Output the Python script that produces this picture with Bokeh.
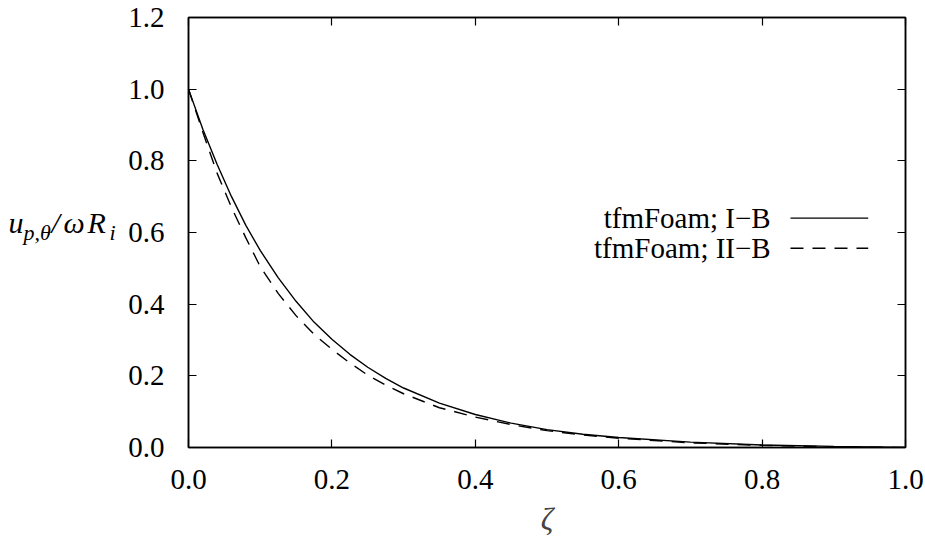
from bokeh.plotting import figure
from bokeh.layouts import row
from bokeh.models import Range1d, FixedTicker, PrintfTickFormatter, LinearAxis, Label
from bokeh.core.properties import value
from bokeh.embed import file_html
from bokeh.resources import INLINE

# ---- data ----
zeta = [0.0, 0.02, 0.04, 0.06, 0.08, 0.10, 0.125, 0.15, 0.175, 0.20, 0.225, 0.25,
        0.275, 0.30, 0.35, 0.40, 0.45, 0.50, 0.55, 0.60, 0.70, 0.80, 0.90, 1.00]
u_IB = [1.000, 0.888, 0.790, 0.700, 0.620, 0.550, 0.474, 0.408, 0.350, 0.302, 0.260, 0.224,
        0.193, 0.166, 0.124, 0.092, 0.068, 0.050, 0.037, 0.028, 0.015, 0.007, 0.003, 0.000]
u_IIB = [1.000, 0.880, 0.765, 0.670, 0.585, 0.505, 0.430, 0.368, 0.316, 0.274, 0.236, 0.202,
         0.174, 0.150, 0.111, 0.085, 0.064, 0.047, 0.035, 0.026, 0.013, 0.006, 0.002, 0.000]
series_names = ["tfmFoam; I\u2212B", "tfmFoam; II\u2212B"]
x_ticks = [0.0, 0.2, 0.4, 0.6, 0.8, 1.0]
y_ticks = [0.0, 0.2, 0.4, 0.6, 0.8, 1.0, 1.2]

FONT = "Liberation Serif"
FS = "29px"
LW = 124  # width of the strip holding the y-axis title

p = figure(width=925 - LW, height=540, output_backend="svg", toolbar_location=None,
           x_range=Range1d(0, 1.0), y_range=Range1d(0, 1.2),
           min_border_left=188 - LW, min_border_right=20, min_border_top=17, min_border_bottom=93)
p.grid.visible = False
p.outline_line_color = "black"
p.outline_line_width = 1.5
p.background_fill_color = "white"
p.border_fill_color = "white"

def style_axis(ax, show_labels=True):
    ax.major_tick_in = 8
    ax.major_tick_out = 0
    ax.minor_tick_line_color = None
    ax.axis_line_color = "black"
    ax.axis_line_width = 1.5
    ax.major_tick_line_color = "black"
    ax.major_tick_line_width = 1.2
    ax.major_label_text_font = FONT
    if show_labels:
        ax.major_label_text_font_size = FS
        ax.major_label_text_color = "black"
    else:
        ax.major_label_text_font_size = "1px"
        ax.major_label_text_color = None

p.xaxis.ticker = FixedTicker(ticks=x_ticks)
p.yaxis.ticker = FixedTicker(ticks=y_ticks)
p.xaxis.formatter = PrintfTickFormatter(format="%.1f")
p.yaxis.formatter = PrintfTickFormatter(format="%.1f")
style_axis(p.xaxis[0])
style_axis(p.yaxis[0])
p.xaxis.major_label_standoff = 22
p.yaxis.major_label_standoff = 24
p.xaxis.axis_label = "\u03b6"
p.xaxis.axis_label_text_font = FONT
p.xaxis.axis_label_text_font_style = "italic"
p.xaxis.axis_label_text_font_size = "31px"
p.xaxis.axis_label_standoff = 10

top = LinearAxis(ticker=FixedTicker(ticks=x_ticks))
style_axis(top, False)
top.major_label_standoff = 0
p.add_layout(top, "above")
right = LinearAxis(ticker=FixedTicker(ticks=y_ticks))
style_axis(right, False)
right.major_label_standoff = 0
p.add_layout(right, "right")

# curves
p.line(zeta, u_IB, line_color="black", line_width=1.4)
p.line(zeta, u_IIB, line_color="black", line_width=1.4, line_dash="13 9")

# legend (gnuplot style: text then sample)
leg_y = [0.640, 0.556]
dashes = ["solid", "13 9"]
for name, yy, d in zip(series_names, leg_y, dashes):
    p.add_layout(Label(x=0.812, y=yy, text=name, text_align="right", text_baseline="middle",
                       text_font=FONT, text_font_size=FS, text_color="black"))
    p.segment(x0=[0.8396], y0=[yy], x1=[0.948], y1=[yy], line_color="black",
              line_width=1.4, line_dash=d)

# y-axis title strip: u_{p,theta} / omega R_i  (pixel coordinates, y downward)
q = figure(width=LW, height=540, output_backend="svg", toolbar_location=None,
           x_range=Range1d(0, LW), y_range=Range1d(540, 0),
           x_axis_type=None, y_axis_type=None, min_border=0)
q.grid.visible = False
q.outline_line_color = None
q.background_fill_color = "white"
q.border_fill_color = "white"
parts = [
    (8, 258, "u", "30px"),
    (23, 270, "p,\u03b8", "22px"),
    (51, 258, "/", "30px"),
    (63, 258, "\u03c9", "30px"),
    (87, 258, "R", "30px"),
    (109, 270, "i", "22px"),
]
for xx, yy, t, fs in parts:
    q.text(x=[xx], y=[yy], text=[t], text_align="left", text_baseline="alphabetic",
           text_font=value(FONT), text_font_style="italic", text_font_size=fs,
           text_color="black")

layout = row(q, p, spacing=0)
open("out.html", "w").write(file_html(layout, INLINE))
